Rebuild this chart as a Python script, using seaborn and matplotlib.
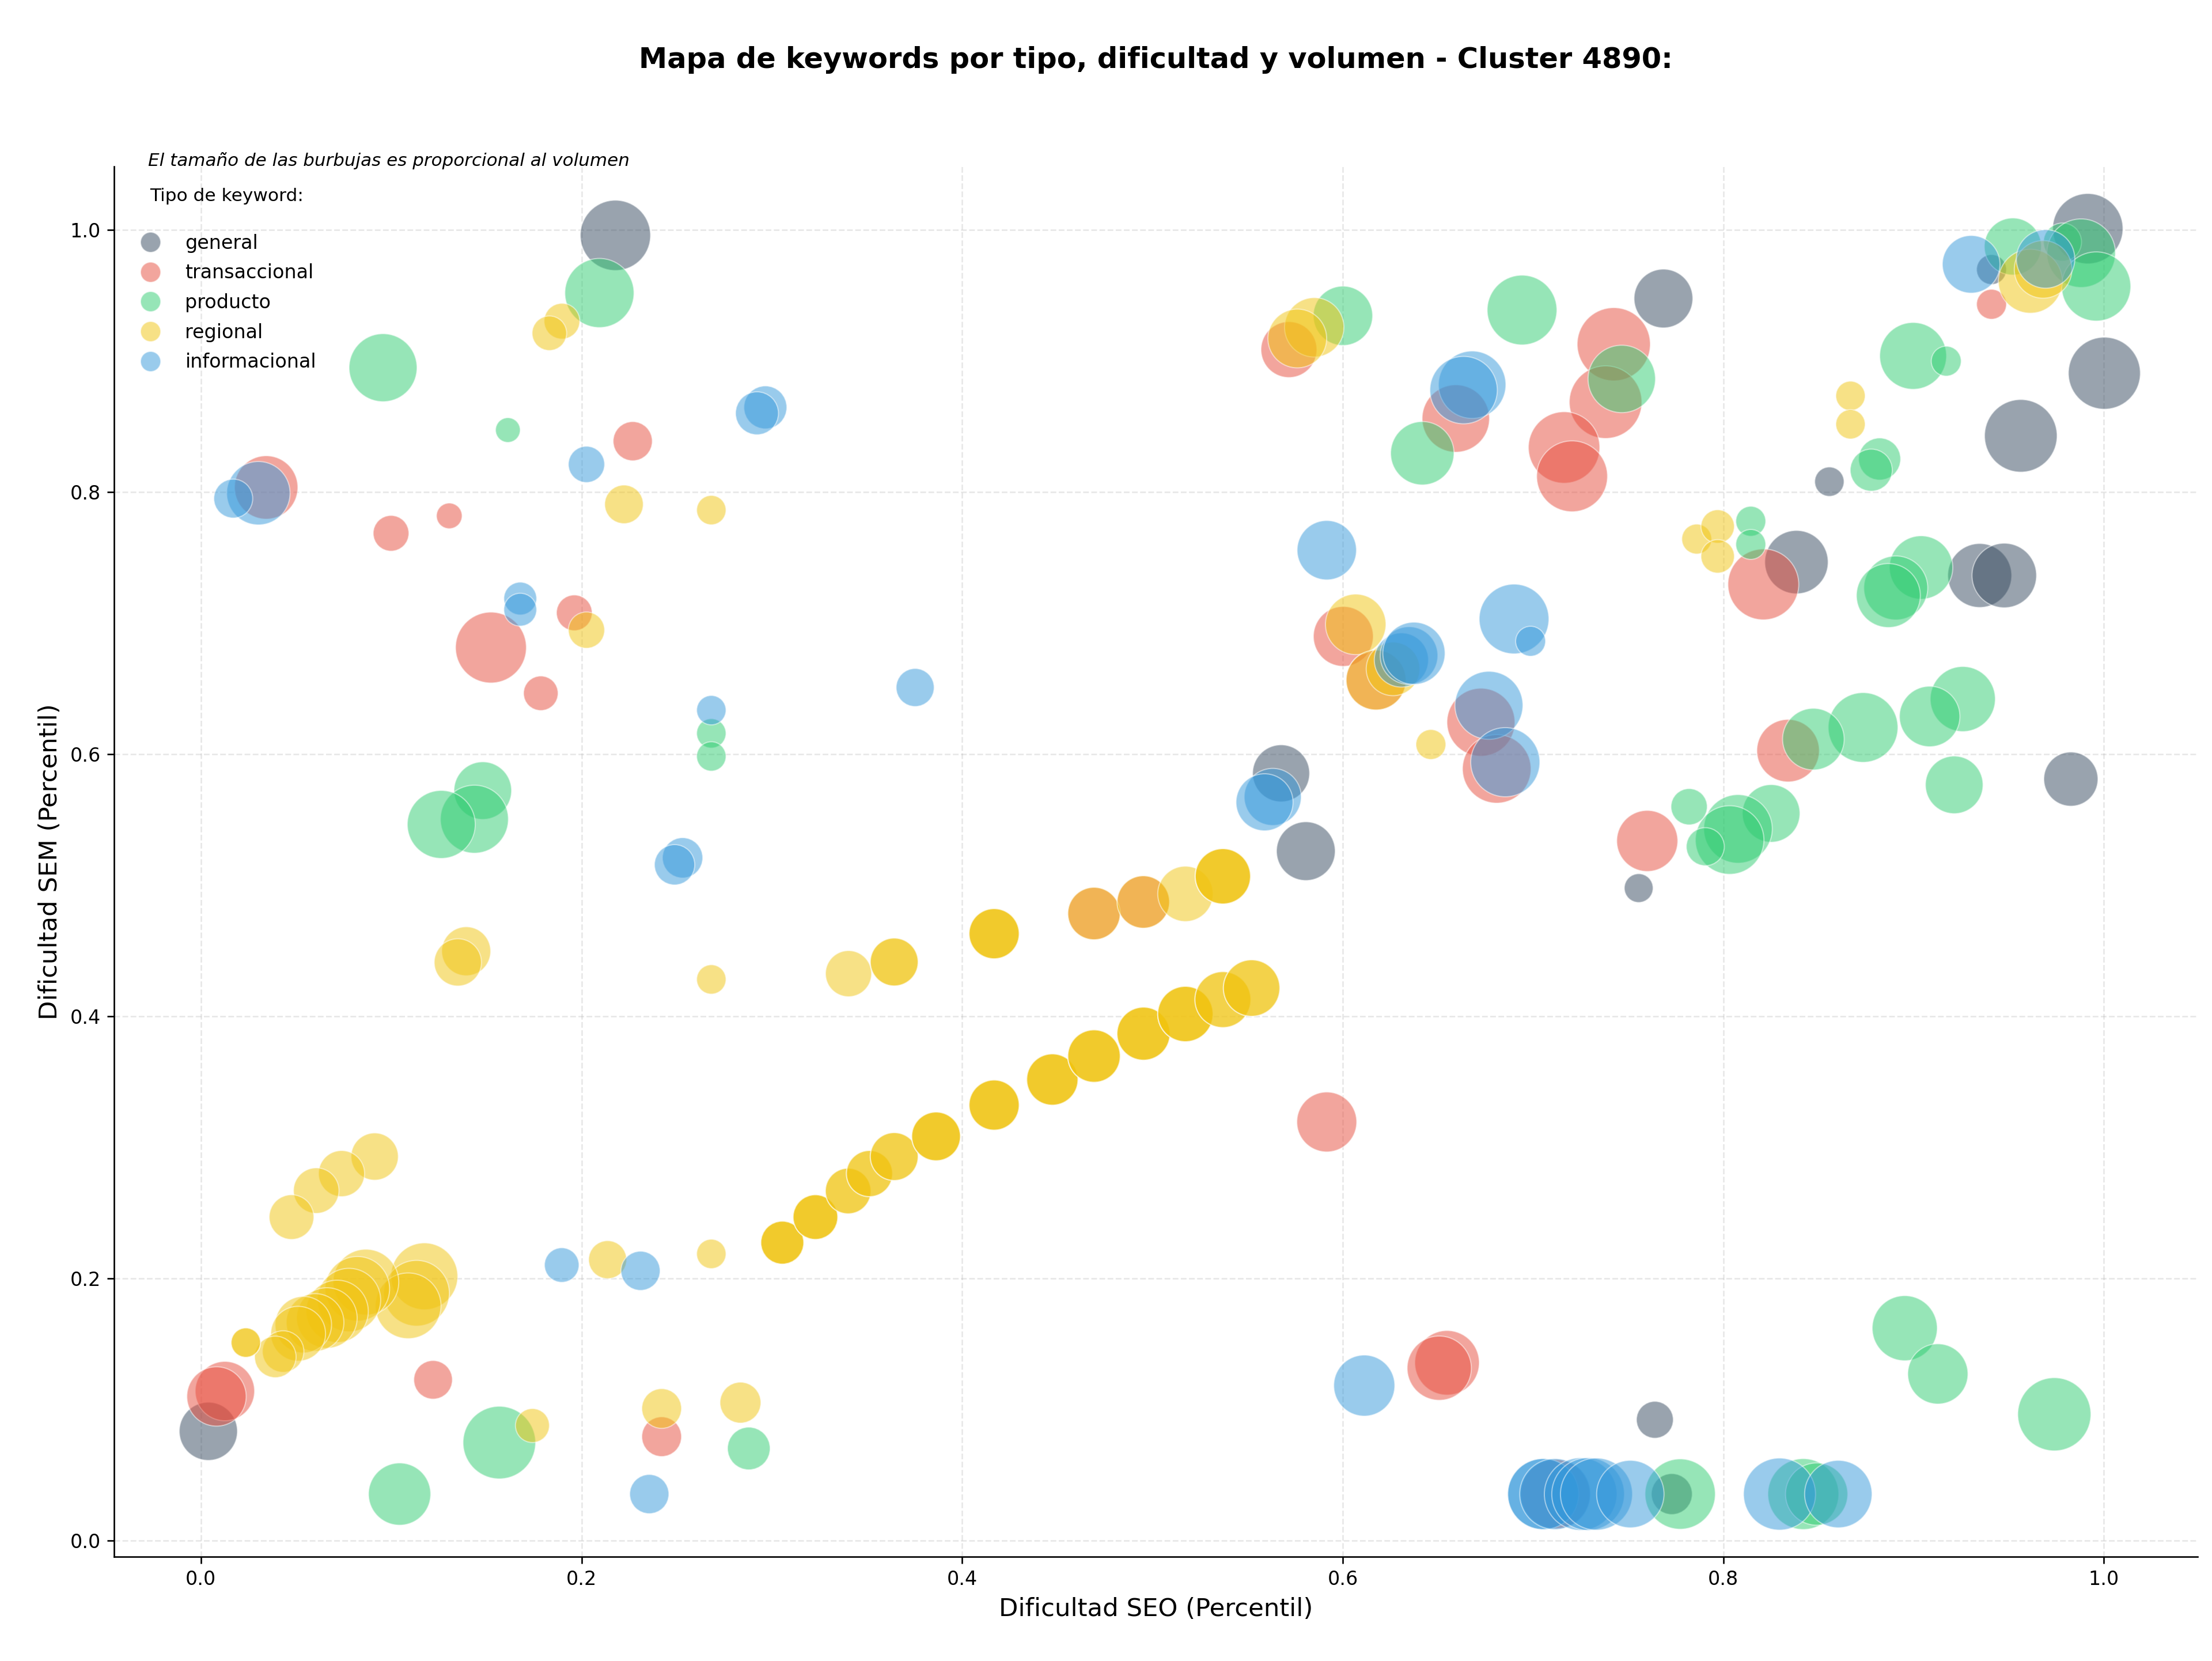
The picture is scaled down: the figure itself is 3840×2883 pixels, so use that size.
import numpy as np
import pandas as pd
import matplotlib
matplotlib.use("Agg")
import matplotlib.pyplot as plt
from matplotlib.lines import Line2D
import seaborn as sns

# ============================================================
# Data (dificultad SEO, dificultad SEM, volumen relativo)
# ============================================================
gen_seo = [0.2178, 0.0039, 0.9915, 1.0002, 0.9563, 0.7685, 0.8557, 0.8384, 0.9347, 0.9476,
           0.9826, 0.5676, 0.5806, 0.7555, 0.7640, 0.7729, 0.9409]
gen_sem = [0.9960, 0.0832, 1.0011, 0.8908, 0.8430, 0.9478, 0.8080, 0.7466, 0.7364, 0.7364,
           0.5810, 0.5854, 0.5260, 0.4978, 0.0920, 0.0353, 0.9699]
gen_vol = [1340, 918, 1340, 1406, 1429, 936, 234, 1089, 1109, 1129,
           795, 882, 936, 225, 369, 454, 243]

tra_seo = [0.2269, 0.0343, 0.0999, 0.1305, 0.1962, 0.1524, 0.1786, 0.0126, 0.0082, 0.1220,
           0.2421, 0.4693, 0.4952, 0.5717, 0.7424, 0.7381, 0.7163, 0.7205, 0.6594, 0.6003,
           0.6175, 0.6726, 0.6809, 0.7600, 0.5916, 0.6548, 0.6507, 0.7117, 0.9409, 0.8210,
           0.8340]
tra_sem = [0.8389, 0.8036, 0.7686, 0.7819, 0.7079, 0.6814, 0.6465, 0.1139, 0.1098, 0.1225,
           0.0791, 0.4784, 0.4872, 0.9088, 0.9129, 0.8687, 0.8341, 0.8121, 0.8562, 0.6899,
           0.6566, 0.6244, 0.5888, 0.5338, 0.3193, 0.1355, 0.1314, 0.0353, 0.9434, 0.7296,
           0.6027]
tra_vol = [416, 1089, 346, 179, 346, 1362, 324, 955, 955, 404,
           428, 745, 745, 847, 1452, 1429, 1384, 1362, 1232, 973,
           973, 1253, 1274, 1011, 973, 1129, 1119, 1296, 243, 1362,
           1060]

pro_seo = [0.2094, 0.0957, 0.1613, 0.1481, 0.1437, 0.1263, 0.2682, 0.2682, 0.1568, 0.1044,
           0.2879, 0.6001, 0.6942, 0.7466, 0.6418, 0.9521, 0.9782, 0.9880, 0.9959, 0.8997,
           0.9171, 0.8821, 0.8777, 0.8144, 0.8144, 0.9039, 0.8906, 0.8867, 0.9258, 0.9084,
           0.8734, 0.8473, 0.9213, 0.8251, 0.8077, 0.8033, 0.7905, 0.7820, 0.7773, 0.8420,
           0.8490, 0.8953, 0.9127, 0.9739]
pro_sem = [0.9520, 0.8950, 0.8474, 0.5722, 0.5504, 0.5464, 0.6159, 0.5983, 0.0746, 0.0353,
           0.0701, 0.9346, 0.9390, 0.8864, 0.8297, 0.9875, 0.9909, 0.9824, 0.9570, 0.9040,
           0.9000, 0.8253, 0.8168, 0.7778, 0.7601, 0.7425, 0.7269, 0.7211, 0.6421, 0.6288,
           0.6204, 0.6115, 0.5766, 0.5548, 0.5430, 0.5345, 0.5294, 0.5599, 0.0353, 0.0353,
           0.0353, 0.1619, 0.1270, 0.0962]
pro_vol = [1296, 1253, 166, 900, 1253, 1253, 234, 234, 1429, 1050,
           493, 955, 1318, 1232, 1089, 882, 392, 1274, 1296, 1211,
           243, 480, 480, 243, 243, 1089, 1109, 1109, 1149, 992,
           1318, 1030, 900, 900, 1274, 1274, 392, 357, 1340, 1362,
           1050, 1149, 983, 1452]

reg_seo = [0.1897, 0.1831, 0.2223, 0.2026, 0.2682, 0.1394, 0.1350, 0.0913, 0.0739, 0.0606,
           0.0476, 0.1174, 0.1133, 0.1089, 0.0867, 0.0822, 0.0778, 0.0716, 0.0662, 0.0600,
           0.0538, 0.0511, 0.0432, 0.0391, 0.0236, 0.0236, 0.1742, 0.2137, 0.2421, 0.2835,
           0.2682, 0.2682, 0.3403, 0.3643, 0.3643, 0.4168, 0.4168, 0.4168, 0.4693, 0.4952,
           0.5173, 0.5370, 0.5370, 0.5370,
           0.3055, 0.3055, 0.3055, 0.3229, 0.3229, 0.3229, 0.3401, 0.3401, 0.3513, 0.3513,
           0.3643, 0.3643, 0.3863, 0.3863, 0.3863, 0.4168, 0.4168, 0.4168, 0.4474, 0.4474,
           0.4474, 0.4693, 0.4693, 0.4693, 0.4953, 0.4953, 0.4953, 0.5173, 0.5173, 0.5173,
           0.5370, 0.5370, 0.5521, 0.5521,
           0.5850, 0.5761, 0.6068, 0.6175, 0.6264, 0.6463, 0.9613, 0.9680, 0.8668, 0.8668,
           0.7860, 0.7970, 0.7970]
reg_sem = [0.9305, 0.9213, 0.7907, 0.6947, 0.7863, 0.4496, 0.4411, 0.2929, 0.2799, 0.2669,
           0.2467, 0.2015, 0.1886, 0.1790, 0.1971, 0.1920, 0.1834, 0.1748, 0.1697, 0.1663,
           0.1646, 0.1577, 0.1441, 0.1400, 0.1509, 0.1509, 0.0876, 0.2142, 0.1006, 0.1051,
           0.4281, 0.2186, 0.4325, 0.4414, 0.4414, 0.4630, 0.4630, 0.4630, 0.4784, 0.4872,
           0.4934, 0.5068, 0.5068, 0.5068,
           0.2272, 0.2272, 0.2272, 0.2467, 0.2467, 0.2467, 0.2666, 0.2666, 0.2799, 0.2799,
           0.2929, 0.2929, 0.3083, 0.3083, 0.3083, 0.3322, 0.3322, 0.3322, 0.3517, 0.3517,
           0.3517, 0.3696, 0.3696, 0.3696, 0.3867, 0.3867, 0.3867, 0.4017, 0.4017, 0.4017,
           0.4127, 0.4127, 0.4215, 0.4215,
           0.9258, 0.9173, 0.6991, 0.6566, 0.6651, 0.6074, 0.9610, 0.9700, 0.8735, 0.8518,
           0.7642, 0.7738, 0.7510]
reg_vol = [346, 324, 404, 357, 234, 650, 605, 605, 576, 562,
           541, 1211, 1170, 1170, 1170, 1129, 1089, 1050, 992, 900,
           864, 812, 467, 467, 234, 234, 313, 392, 428, 454,
           234, 234, 576, 620, 620, 681, 681, 681, 745, 745,
           829, 829, 829, 829,
           500, 500, 500, 541, 541, 541, 562, 562, 576, 576,
           620, 620, 643, 643, 643, 681, 681, 681, 713, 713,
           713, 745, 745, 745, 762, 762, 762, 829, 829, 829,
           847, 847, 864, 864,
           955, 936, 992, 973, 778, 243, 1109, 900, 234, 234,
           243, 303, 303]

inf_seo = [0.0302, 0.0170, 0.2026, 0.1678, 0.1678, 0.2966, 0.2922, 0.3753, 0.2682, 0.2531,
           0.2489, 0.1896, 0.2310, 0.2356, 0.6680, 0.6635, 0.5916, 0.6900, 0.6987, 0.6768,
           0.6854, 0.5632, 0.5589, 0.6308, 0.6348, 0.6374, 0.6113, 0.7053, 0.7053, 0.7116,
           0.7250, 0.7289, 0.7333, 0.7511, 0.8295, 0.8604, 0.9302, 0.9693]
inf_sem = [0.7992, 0.7951, 0.8212, 0.7188, 0.7103, 0.8647, 0.8602, 0.6509, 0.6336, 0.5209,
           0.5156, 0.2101, 0.2057, 0.0353, 0.8820, 0.8779, 0.7557, 0.7032, 0.6862, 0.6373,
           0.5939, 0.5674, 0.5633, 0.6719, 0.6753, 0.6770, 0.1181, 0.0353, 0.0353, 0.0353,
           0.0353, 0.0353, 0.0353, 0.0353, 0.0353, 0.0353, 0.9739, 0.9780]
inf_vol = [1089, 410, 357, 292, 292, 500, 500, 392, 234, 441,
           441, 324, 416, 416, 1232, 1232, 955, 1318, 243, 1253,
           1296, 882, 882, 795, 900, 1050, 1011, 1362, 1362, 1362,
           1429, 1429, 1406, 1232, 1406, 1232, 900, 927]

tipos = ['general', 'transaccional', 'producto', 'regional', 'informacional']
colores = ['#34495e', '#e74c3c', '#2ecc71', '#f1c40f', '#3498db']

frames = []
for tipo, seo, sem, vol in zip(tipos,
                               [gen_seo, tra_seo, pro_seo, reg_seo, inf_seo],
                               [gen_sem, tra_sem, pro_sem, reg_sem, inf_sem],
                               [gen_vol, tra_vol, pro_vol, reg_vol, inf_vol]):
    frames.append(pd.DataFrame({'seo': seo, 'sem': sem, 'volumen': vol, 'tipo': tipo}))
df = pd.concat(frames, ignore_index=True)

# ============================================================
# Plot
# ============================================================
fig, ax = plt.subplots(figsize=(16, 12.0125), dpi=240)
fig.subplots_adjust(left=0.0516, right=0.9935, top=0.8998, bottom=0.0628)

sns.scatterplot(data=df, x='seo', y='sem', hue='tipo', hue_order=tipos,
                palette=colores, size='volumen', sizes=(0, 1500), size_norm=(0, 1500),
                alpha=0.5, edgecolor='white', linewidth=0.6, legend=False, ax=ax)

ax.set_xlim(-0.0456, 1.0492)
ax.set_ylim(-0.0125, 1.0486)
ax.set_xticks([0.0, 0.2, 0.4, 0.6, 0.8, 1.0])
ax.set_yticks([0.0, 0.2, 0.4, 0.6, 0.8, 1.0])
ax.tick_params(labelsize=10)
ax.grid(True, linestyle='--', alpha=0.3)
ax.set_axisbelow(True)
sns.despine(ax=ax)

ax.set_xlabel('Dificultad SEO (Percentil)', fontsize=13)
ax.set_ylabel('Dificultad SEM (Percentil)', fontsize=13)
fig.suptitle('Mapa de keywords por tipo, dificultad y volumen - Cluster 4890:',
             fontsize=14.85, fontweight='bold', x=0.5226, y=0.964, va='center')

ax.text(0.0163, 1.0041, 'El tamaño de las burbujas es proporcional al volumen',
        transform=ax.transAxes, fontsize=9.3, style='italic', va='center', ha='left')
ax.text(0.0171, 0.9787, 'Tipo de keyword:', transform=ax.transAxes,
        fontsize=9.4, va='center', ha='left')

handles = [Line2D([0], [0], marker='o', linestyle='', markersize=10.5,
                  markerfacecolor=c, markeredgecolor='white', markeredgewidth=0.6,
                  alpha=0.5) for c in colores]
ax.legend(handles, tipos, loc='upper left', bbox_to_anchor=(0.0, 0.964),
          frameon=False, fontsize=10, labelspacing=0.56)

plt.savefig('out.png', dpi=240)
